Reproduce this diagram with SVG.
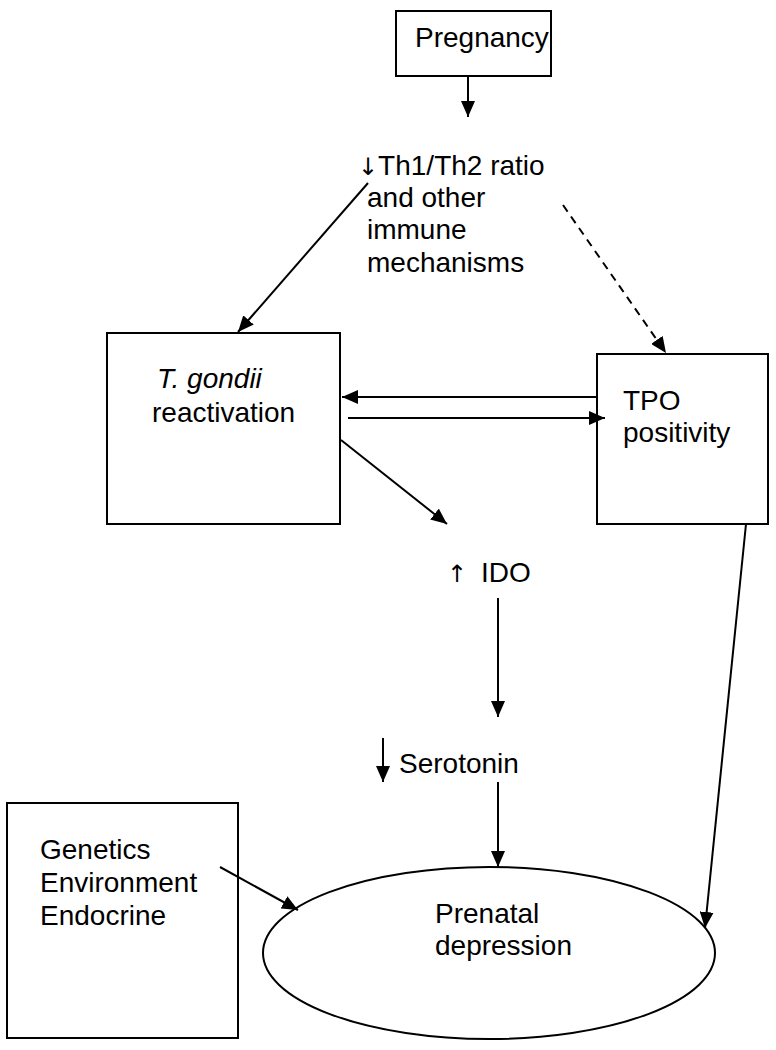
<svg xmlns="http://www.w3.org/2000/svg" width="776" height="1050" viewBox="0 0 776 1050">
<style>
.box{fill:#fff;stroke:#000;stroke-width:2}
.t{font-family:"Liberation Sans",Arial,sans-serif;font-size:28px;fill:#000}
.ar{font-family:"DejaVu Sans","Liberation Sans",sans-serif;font-size:24px;fill:#000}
.c{stroke:#000;stroke-width:2;fill:none;marker-end:url(#ah)}
.d{stroke-dasharray:8 6}
</style>
<defs>
<marker id="ah" viewBox="0 0 16 14" refX="16" refY="7" markerWidth="16" markerHeight="14" orient="auto" markerUnits="userSpaceOnUse">
<path d="M0,0 L16,7 L0,14 z" fill="#000"/>
</marker>
</defs>
<rect width="776" height="1050" fill="#fff"/>
<g id="pregnancy">
<rect class="box" x="396" y="11" width="155" height="65"/>
<text class="t" x="415" y="47">Pregnancy</text>
</g>
<g id="th1th2">
<text class="t"><tspan x="358" y="175"><tspan class="ar">↓</tspan>Th1/Th2 ratio</tspan><tspan x="367" y="207">and other</tspan><tspan x="367" y="239">immune</tspan><tspan x="367" y="272">mechanisms</tspan></text>
</g>
<g id="tgondii">
<rect class="box" x="107" y="333" width="233" height="191"/>
<text class="t"><tspan x="157" y="388" font-style="italic">T. gondii</tspan><tspan x="152" y="422">reactivation</tspan></text>
</g>
<g id="tpo">
<rect class="box" x="597" y="354" width="171" height="170"/>
<text class="t"><tspan x="623" y="410">TPO</tspan><tspan x="623" y="442">positivity</tspan></text>
</g>
<g id="ido">
<text class="t"><tspan class="ar" x="447" y="582">↑</tspan><tspan x="481" y="582">IDO</tspan></text>
</g>
<g id="serotonin">
<line x1="383" y1="738" x2="383" y2="782" stroke="#000" stroke-width="2" marker-end="url(#ah)"/>
<text class="t" x="399" y="773">Serotonin</text>
</g>
<g id="factors">
<rect class="box" x="7" y="803" width="231" height="235"/>
<text class="t"><tspan x="40" y="859">Genetics</tspan><tspan x="40" y="892">Environment</tspan><tspan x="40" y="925">Endocrine</tspan></text>
</g>
<g id="depression">
<ellipse class="box" cx="489" cy="953" rx="226" ry="86" stroke-width="1.6"/>
<text class="t"><tspan x="435" y="923">Prenatal</tspan><tspan x="435" y="955">depression</tspan></text>
</g>
<g id="connectors">
<line class="c" x1="468" y1="76" x2="468" y2="117"/>
<line class="c" x1="368" y1="183" x2="238" y2="332"/>
<line class="c d" x1="563" y1="205" x2="666" y2="353"/>
<line class="c" x1="597" y1="397" x2="342" y2="397"/>
<line class="c" x1="348" y1="418" x2="605" y2="418"/>
<line class="c" x1="341" y1="440" x2="447" y2="524"/>
<line class="c" x1="498" y1="598" x2="498" y2="717"/>
<line class="c" x1="498" y1="782" x2="498" y2="867"/>
<line class="c" x1="220" y1="867" x2="298" y2="910"/>
<line class="c" x1="746" y1="524" x2="705" y2="928"/>
</g>
</svg>
